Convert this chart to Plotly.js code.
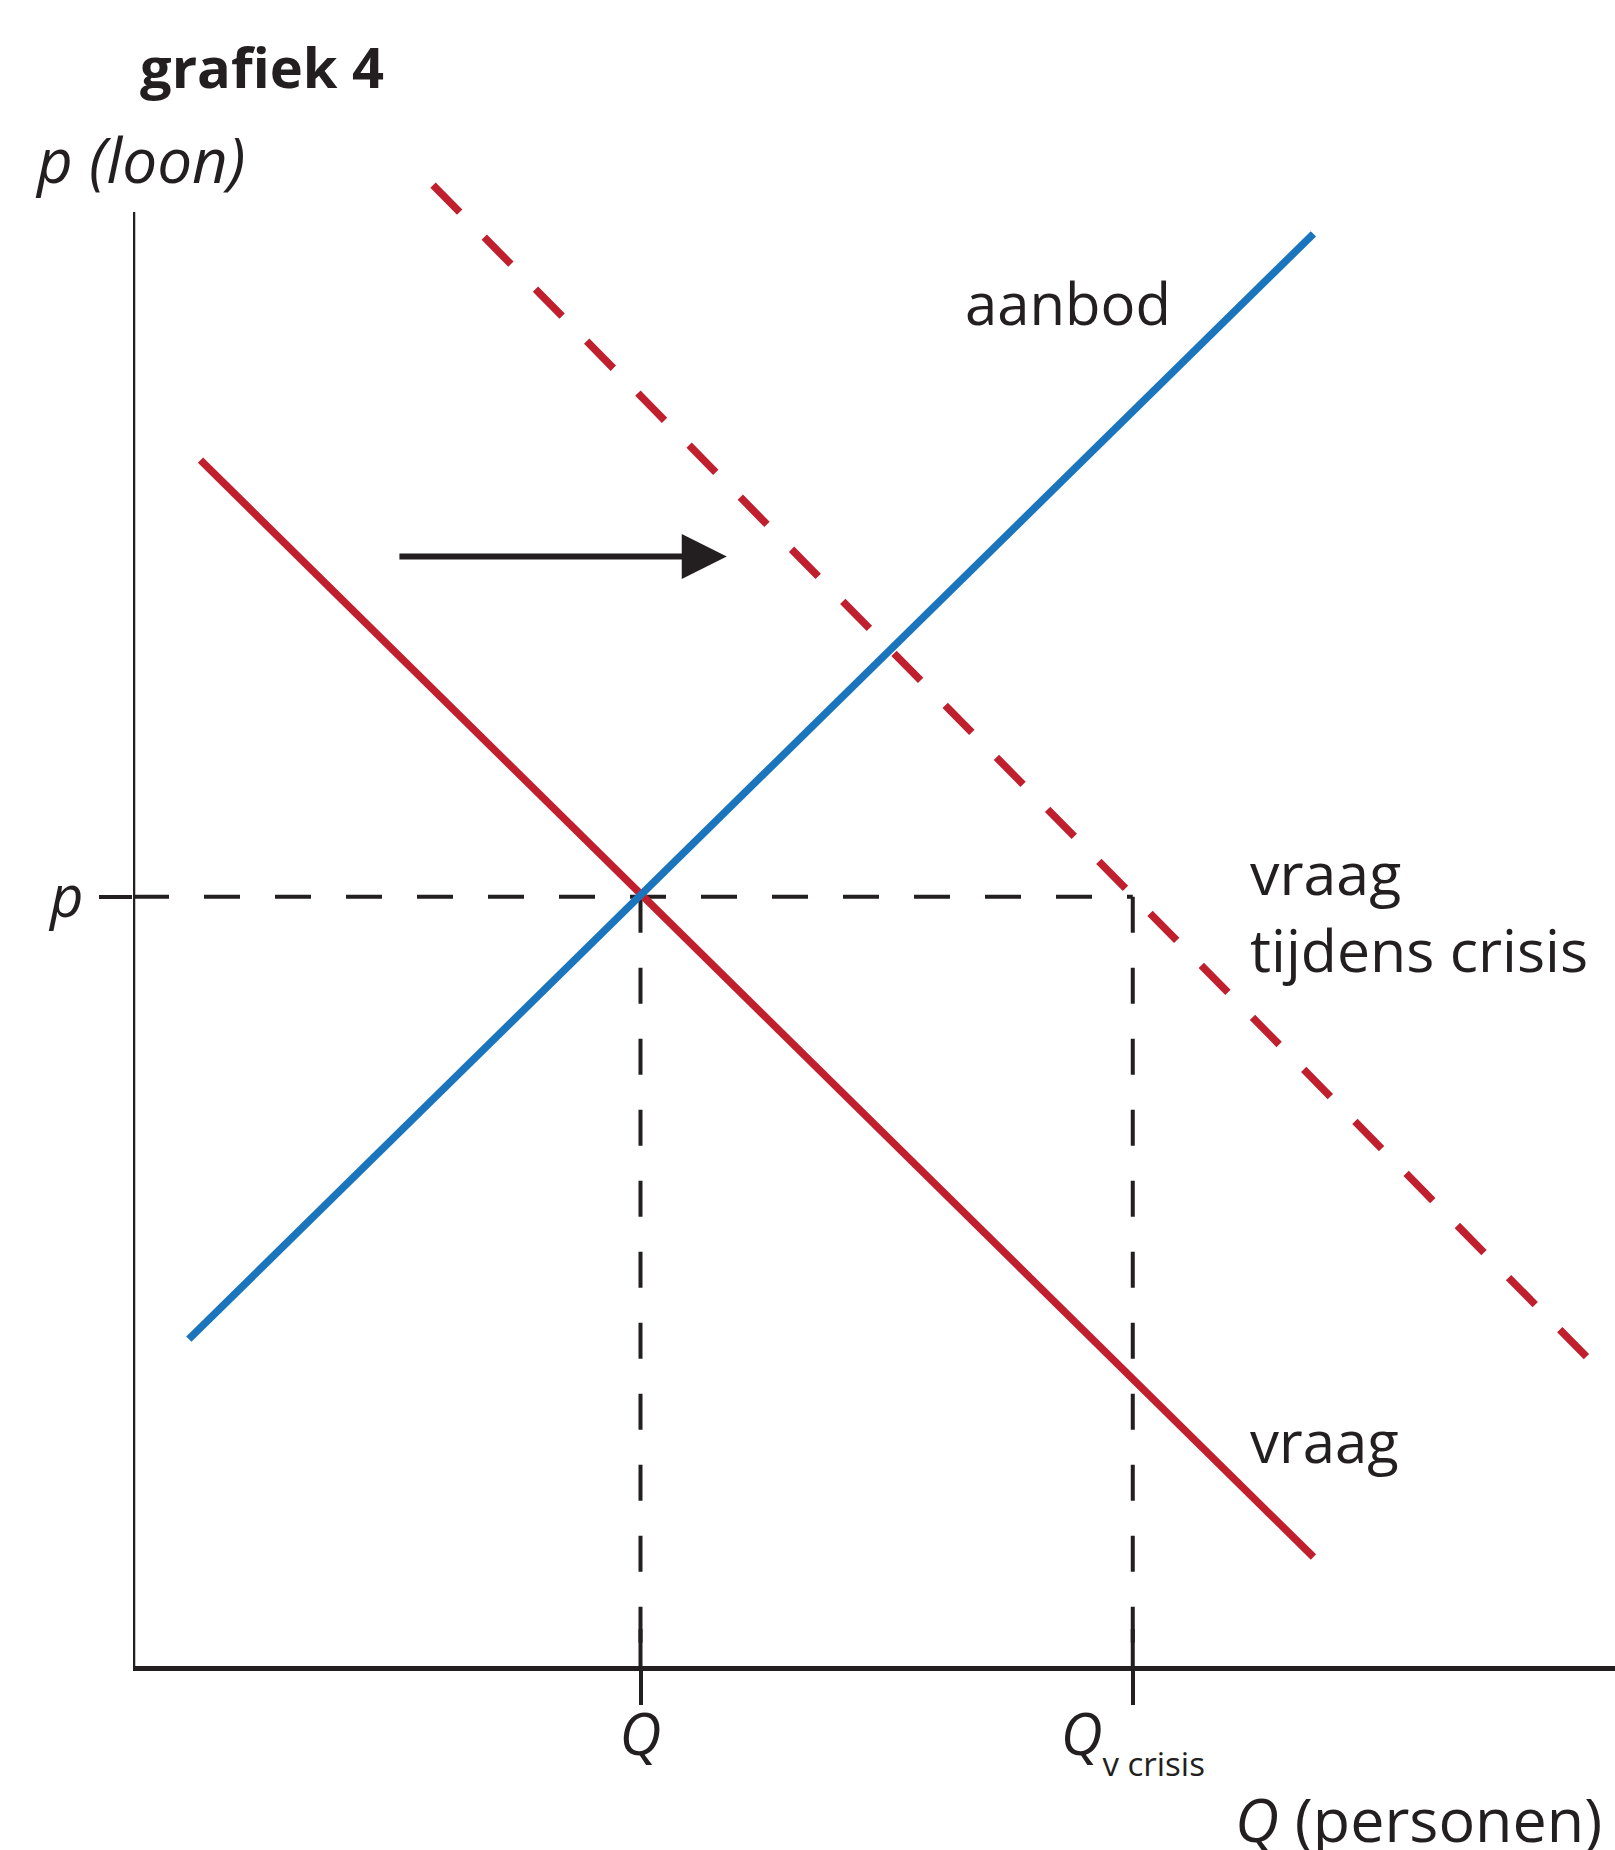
<!DOCTYPE html>
<html>
<head>
<meta charset="utf-8">
<script src="https://cdn.plot.ly/plotly-3.0.1.min.js"></script>
<style>
  html, body { margin: 0; padding: 0; background: #ffffff; }
  #chart { width: 1615px; height: 1850px; }
</style>
</head>
<body>
<div id="chart"></div>
<script>
// ---- data ----
const supplyQ = [0.55, 11.63];
const supplyP = [3.22, 14.11];
const demandQ = [0.665, 11.63];
const demandP = [11.88, 1.074];
const crisisQ = [2.956, 14.43];
const crisisP = [14.59, 2.936];
const eqQ = 5;          // Q
const crisisEqQ = 9.85; // Q v crisis
const eqP = 7.58;       // p
const shiftFrom = [2.61, 10.93];
const shiftTo = [5.85, 10.93];
const xTickVals = [eqQ, crisisEqQ];
const xTickText = ['<i>Q</i>', '<i>Q</i><sub><sub><span style="font-size:33px">v crisis</span></sub></sub>'];
const yTickVals = [eqP];
const yTickText = ['<i>p</i>'];
const axisTopP = 14.325;

// ---- styles ----
const INK = '#231f20';
const RED = '#c01f2e';
const BLUE = '#1b75bc';
const FONT = 'Open Sans, Noto Sans, sans-serif';

const guide = { color: INK, width: 4, dash: '36px,35px' };
const traces = [
  { x: [0, crisisEqQ], y: [eqP, eqP], mode: 'lines', line: guide, hoverinfo: 'skip' },
  { x: [eqQ, eqQ], y: [eqP, 0], mode: 'lines', line: guide, hoverinfo: 'skip' },
  { x: [crisisEqQ, crisisEqQ], y: [eqP, 0], mode: 'lines', line: guide, hoverinfo: 'skip' },
  { x: crisisQ, y: crisisP, mode: 'lines', name: 'vraag tijdens crisis',
    line: { color: RED, width: 7.5, dash: '38px,35px' } },
  { x: demandQ, y: demandP, mode: 'lines', name: 'vraag',
    line: { color: RED, width: 7.5 } },
  { x: supplyQ, y: supplyP, mode: 'lines', name: 'aanbod',
    line: { color: BLUE, width: 7.5 } }
];

const shapes = [
  { type: 'line', xref: 'x', yref: 'y', x0: 0, x1: 0, y0: 0, y1: axisTopP,
    line: { color: INK, width: 4.5 } }
].concat(xTickVals.map(v => ({
  type: 'line', xref: 'x', yref: 'y', x0: v, x1: v, y0: 0, y1: 0.365,
  line: { color: INK, width: 4 }
})));

const txt = (size, extra) => Object.assign({ family: FONT, size: size, color: INK }, extra || {});

const annotations = [
  { text: '<b>grafiek 4</b>', x: 0.05, y: 15.76, xref: 'x', yref: 'y',
    xanchor: 'left', yanchor: 'middle', showarrow: false, font: txt(56) },
  { text: '<i>p (loon)</i>', x: -0.0675, y: 0.9045, xref: 'paper', yref: 'paper',
    xanchor: 'left', yanchor: 'middle', showarrow: false, font: txt(62) },
  { text: 'aanbod', x: 8.177, y: 13.43, xref: 'x', yref: 'y',
    xanchor: 'left', yanchor: 'middle', showarrow: false, font: txt(58) },
  { text: 'vraag<br>tijdens crisis', x: 10.99, y: 7.44, xref: 'x', yref: 'y',
    xanchor: 'left', yanchor: 'middle', align: 'left', showarrow: false, font: txt(59) },
  { text: 'vraag', x: 10.99, y: 2.22, xref: 'x', yref: 'y',
    xanchor: 'left', yanchor: 'middle', showarrow: false, font: txt(58) },
  { text: '<i>Q</i> (personen)', x: 0.7422, y: -0.0915, xref: 'paper', yref: 'paper',
    xanchor: 'left', yanchor: 'middle', showarrow: false, font: txt(61) },
  { text: '', x: shiftTo[0], y: shiftTo[1], ax: shiftFrom[0], ay: shiftFrom[1],
    xref: 'x', yref: 'y', axref: 'x', ayref: 'y', showarrow: true,
    arrowhead: 2, arrowwidth: 6, arrowsize: 1.5, arrowcolor: INK, standoff: 0 }
];

const layout = {
  width: 1615, height: 1850,
  margin: { l: 133, r: 0, t: 0, b: 184 },
  paper_bgcolor: '#ffffff', plot_bgcolor: '#ffffff',
  showlegend: false,
  xaxis: {
    range: [0, 14.601], showgrid: false, zeroline: false,
    showline: true, linewidth: 4.5, linecolor: INK,
    tickmode: 'array', tickvals: xTickVals, ticktext: xTickText,
    ticks: 'outside', ticklen: 34, tickwidth: 4, tickcolor: INK,
    ticklabelstandoff: -19,
    tickfont: txt(58), fixedrange: true
  },
  yaxis: {
    range: [0, 16.4138], showgrid: false, zeroline: false,
    showline: false,
    tickmode: 'array', tickvals: yTickVals, ticktext: yTickText,
    ticks: 'outside', ticklen: 33, tickwidth: 4, tickcolor: INK,
    ticklabelstandoff: 4,
    tickfont: txt(58), fixedrange: true
  },
  shapes: shapes,
  annotations: annotations
};

Plotly.newPlot('chart', traces, layout, { displayModeBar: false, staticPlot: true });
</script>
</body>
</html>
